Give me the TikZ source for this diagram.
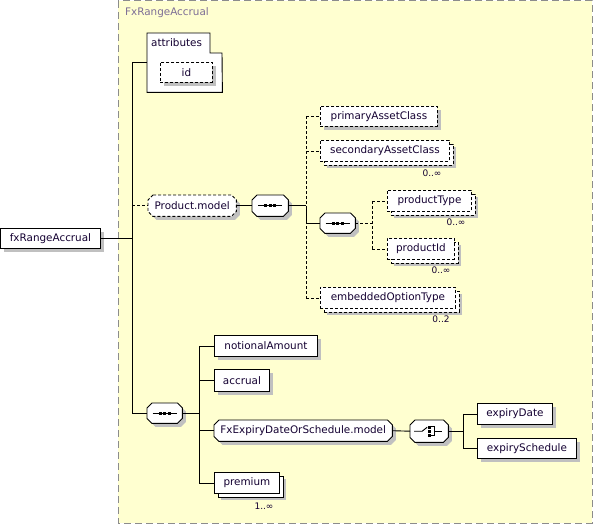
\documentclass[tikz,border=0pt]{standalone}
\usepackage{fontspec}
\setmainfont{DejaVu Sans}
\definecolor{bgyellow}{RGB}{255,255,208}
\definecolor{framegray}{RGB}{140,140,140}
\definecolor{shadowgray}{RGB}{192,192,192}
\definecolor{txt}{RGB}{20,0,50}
\definecolor{titletxt}{RGB}{125,110,150}
\newcommand\octo[2]{%
  \draw[ln, fill=white, #2, preaction={fill=shadowgray, transform canvas={xshift=3.5pt,yshift=-3.5pt}}]
    ([xshift=5pt]#1.north west) -- ([xshift=-5pt]#1.north east) -- ([yshift=-5pt]#1.north east)
    -- ([yshift=5pt]#1.south east) -- ([xshift=-5pt]#1.south east) -- ([xshift=5pt]#1.south west)
    -- ([yshift=5pt]#1.south west) -- ([yshift=-5pt]#1.north west) -- cycle;}
\begin{document}
\begin{tikzpicture}[x=1pt,y=-1pt,
  font=\fontsize{10.4}{12}\selectfont,
  every node/.style={text=txt},
  ln/.style={line width=0.9pt, draw=black},
  dl/.style={ln, dash pattern=on 3pt off 2pt},
  box/.style={ln, rectangle, inner sep=0pt, anchor=north west, fill=white,
    preaction={fill=shadowgray, transform canvas={xshift=3.5pt,yshift=-3.5pt}}},
  multibox/.style={ln, rectangle, inner sep=0pt, anchor=north west, fill=white,
    preaction={fill=shadowgray, transform canvas={xshift=7pt,yshift=-7pt}},
    preaction={fill=white, draw, transform canvas={xshift=3.5pt,yshift=-3.5pt}}},
  opt/.style={dash pattern=on 3pt off 2pt},
  octn/.style={rectangle, inner sep=0pt, anchor=north west},
  card/.style={font=\fontsize{9}{10}\selectfont, inner sep=0pt},
]
\useasboundingbox (0,0) rectangle (593,524);
% frame
\path[fill=bgyellow, draw=framegray, line width=1pt, dash pattern=on 7pt off 4pt] (118,1) rectangle (592,523);
\node[anchor=west, inner sep=0pt, text=titletxt] (title) at (125,13) {FxRangeAccrual};

% attributes
\node[inner sep=0pt, anchor=north west, minimum width=75, minimum height=59] (attr) at (147,33) {};
\draw[ln, fill=white] (attr.north west) -- ++(63,0) -- ++(0,20) -- ++(12,0) -- (attr.south east) -- (attr.south west) -- cycle;
\node[anchor=west, inner sep=0pt] (attrlbl) at (151,43) {attributes};
\node[box, opt, minimum width=52, minimum height=20] (id) at (160,62) {id};

% root
\node[box, minimum width=100, minimum height=20] (fx) at (0,228) {fxRangeAccrual};

% model groups (shapes drawn below, text on top)
\node[octn, minimum width=88, minimum height=21] (pm) at (148,195) {};
\node[octn, minimum width=36, minimum height=21] (s1) at (252,195) {};
\node[octn, minimum width=35, minimum height=20] (s2) at (320,213) {};
\node[octn, minimum width=35, minimum height=20] (s3) at (147,403) {};
\node[octn, minimum width=178, minimum height=21] (fxm) at (214,420) {};
\node[octn, minimum width=38, minimum height=22] (ch) at (410,420) {};
\octo{pm}{dash pattern=on 3pt off 2pt}
\octo{s1}{}
\octo{s2}{}
\octo{s3}{}
\octo{fxm}{}
\octo{ch}{}
\node[inner sep=0pt] (pmlbl) at (pm.center) {Product.model};
\node[inner sep=0pt] (fxmlbl) at (fxm.center) {FxExpiryDateOrSchedule.model};

% first branch
\node[box, opt, minimum width=117, minimum height=20] (pac) at (320,106) {primaryAssetClass};
\node[multibox, opt, minimum width=129, minimum height=21] (sac) at (320,140) {secondaryAssetClass};
\node[multibox, opt, minimum width=84, minimum height=21] (pt) at (387,190) {productType};
\node[multibox, opt, minimum width=67, minimum height=21] (pid) at (387,238) {productId};
\node[multibox, opt, minimum width=135, minimum height=21] (eot) at (320,287) {embeddedOptionType};
\node[card] (c1) at (432,173) {0..∞};
\node[card] (c2) at (456,222) {0..∞};
\node[card] (c3) at (441,270) {0..∞};
\node[card] (c4) at (441,319) {0..2};

% second branch
\node[box, minimum width=103, minimum height=21] (na) at (214,335) {notionalAmount};
\node[box, minimum width=55, minimum height=22] (acc) at (214,369) {accrual};
\node[multibox, minimum width=65, minimum height=21] (prem) at (214,472) {premium};
\node[card] (c5) at (264,506) {1..∞};
\node[box, minimum width=75, minimum height=21] (ed) at (477,403) {expiryDate};
\node[box, minimum width=99, minimum height=20] (es) at (477,438) {expirySchedule};

% branch coordinates
\coordinate (t0) at (132,0);
\coordinate (t1) at (306,0);
\coordinate (t2) at (372,0);
\coordinate (t3) at (199,0);
\coordinate (t4) at (463,0);

% sequence symbols
\foreach \n in {s1,s2,s3}{
  \draw[ln] ([xshift=-12pt]\n.center) -- ([xshift=12pt]\n.center);
  \foreach \dx in {-4.5,0,4.5}
    \fill ([xshift=\dx pt]\n.center) +(-1.6,-1.6) rectangle +(1.6,1.6);
}
% choice symbol
\draw[ln] ([xshift=-15pt]ch.center) -- ([xshift=-7pt]ch.center) -- ([xshift=-2pt,yshift=4pt]ch.center);
\foreach \dy in {-4,0,4}
  \fill ([yshift=\dy pt]ch.center) +(-1.3,-1.3) rectangle +(1.3,1.3);
\draw[ln] ([xshift=2pt,yshift=4.5pt]ch.center) -- ([xshift=5pt,yshift=4.5pt]ch.center) -- ([xshift=5pt,yshift=-4.5pt]ch.center) -- ([xshift=2pt,yshift=-4.5pt]ch.center);
\draw[ln] ([xshift=5pt]ch.center) -- ([xshift=13pt]ch.center);

% root connectors
\draw[ln] (fx.east) -- (fx.east -| t0);
\draw[ln] (attr.west -| t0) -- (s3.west -| t0);
\draw[ln] (attr.west -| t0) -- (attr.west);
\draw[dl] (pm.west -| t0) -- (pm.west);
\draw[ln] (s3.west -| t0) -- (s3.west);

% product model
\draw[ln] (pm.east) -- (s1.west);
\draw[ln] (s1.east) -- (s1.east -| t1);
\draw[dl] (pac.west -| t1) -- (eot.west -| t1);
\draw[ln] (s1.east -| t1) -- (s2.west -| t1);
\draw[dl] (pac.west -| t1) -- (pac.west);
\draw[dl] (sac.west -| t1) -- (sac.west);
\draw[dl] (eot.west -| t1) -- (eot.west);
\draw[ln] (s2.west -| t1) -- (s2.west);
\draw[dl] (s2.east) -- (s2.east -| t2);
\draw[dl] (pt.west -| t2) -- (pid.west -| t2);
\draw[dl] (pt.west -| t2) -- (pt.west);
\draw[dl] (pid.west -| t2) -- (pid.west);

% second sequence
\draw[ln] (s3.east) -- (s3.east -| t3);
\draw[ln] (na.west -| t3) -- (prem.west -| t3);
\draw[ln] (na.west -| t3) -- (na.west);
\draw[ln] (acc.west -| t3) -- (acc.west);
\draw[ln] (fxm.west -| t3) -- (fxm.west);
\draw[ln] (prem.west -| t3) -- (prem.west);
\draw[ln] (fxm.east) -- (ch.west);
\draw[ln] (ch.east) -- (ch.east -| t4);
\draw[ln] (ed.west -| t4) -- (es.west -| t4);
\draw[ln] (ed.west -| t4) -- (ed.west);
\draw[ln] (es.west -| t4) -- (es.west);
\end{tikzpicture}
\end{document}
